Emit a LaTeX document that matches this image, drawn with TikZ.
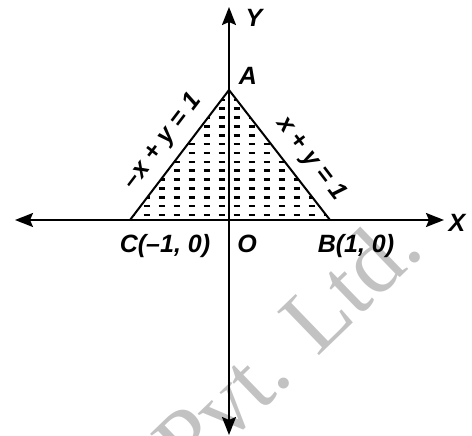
\documentclass[tikz,border=0pt]{standalone}
\usepackage{fontspec}
\setmainfont{Liberation Sans}
\newfontfamily\wmfont{Liberation Serif}
\usetikzlibrary{arrows.meta}
\begin{document}
\begin{tikzpicture}[x=1pt,y=-1pt,
  axis/.style={line width=2pt,-{Stealth[length=18pt,width=14pt,inset=3pt]}},
  edge/.style={line width=2pt},
  lbl/.style={inner sep=0pt,font=\fontsize{25}{25}\selectfont\bfseries\itshape},
  hatchdash/.style={line width=2.6pt},
  wm/.style={inner sep=0pt,text=black!24,font=\fontsize{92}{92}\selectfont\wmfont}]
\useasboundingbox (0,0) rectangle (472,436);
% watermark
\begin{scope}
\clip (0,0) rectangle (472,436);
\node[wm,rotate=44,anchor=base] (wmk) at (308,366) {Pvt. Ltd.};
\end{scope}
% points
\coordinate (O) at (229,220);
\coordinate (A) at (229,90);
\coordinate (B) at (330,220);
\coordinate (C) at (130,220);
\coordinate (xl) at (15,220);
\coordinate (xr) at (444,220);
\coordinate (yt) at (229,7);
\coordinate (yb) at (229,435);
% hatching
\begin{scope}
  \clip (C) -- (A) -- (B) -- cycle;
  \foreach \k in {0,...,13}{
    \foreach \j in {0,...,6}{
      \draw[hatchdash] ({229+7.5+15*\j-3},{215-8.85*\k}) -- ++(6,0);
      \draw[hatchdash] ({229-7.5-15*\j-3},{215-8.85*\k}) -- ++(6,0);
    }
  }
\end{scope}
% axes
\draw[axis] (O) -- (xr);
\draw[axis] (O) -- (xl);
\draw[axis] (O) -- (yt);
\draw[axis] (O) -- (yb);
% triangle
\draw[edge,line join=miter] (C) -- (A) -- (B);
% labels
\node[lbl,anchor=base] (lA) at (248,85) {A};
\node[lbl,anchor=base] (lO) at (247,252) {O};
\node[lbl,anchor=base] (lC) at (165,252) {C(–1, 0)};
\node[lbl,anchor=base] (lB) at (356,252) {B(1, 0)};
\node[lbl,anchor=base] (lX) at (457,231) {X};
\node[lbl,anchor=base] (lY) at (254,27) {Y};
\node[lbl,rotate=52.7] (l1) at (163,142) {–x + y = 1};
\node[lbl,rotate=-52.7] (l2) at (311,159) {x + y = 1};
\end{tikzpicture}
\end{document}
